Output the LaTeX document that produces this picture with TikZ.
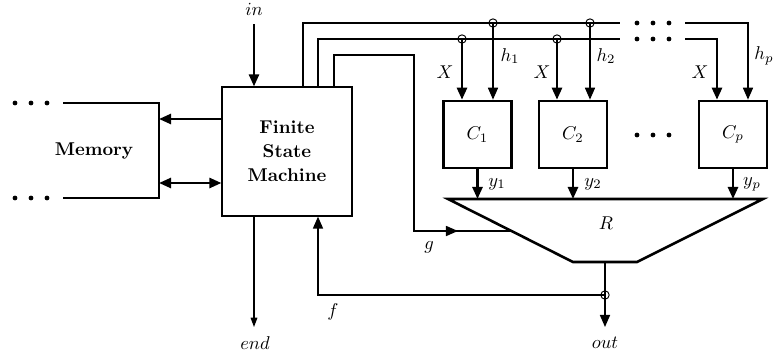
\documentclass[tikz,border=0pt]{standalone}
\usetikzlibrary{arrows.meta,calc}
\begin{document}
\begin{tikzpicture}[x=0.54pt,y=-0.54pt,
  thinln/.style={line width=0.6pt},
  medln/.style={line width=0.9pt},
  thickln/.style={line width=1.4pt},
  arr/.style={-{Triangle[length=6.5pt,width=5.4pt]}},
  arrsmall/.style={-{Triangle[length=5pt,width=3.6pt]}},
  dotn/.style={circle,fill,inner sep=0pt,minimum size=2.6pt},
  tap/.style={circle,draw,line width=0.5pt,inner sep=0pt,minimum size=4.5pt},
  block/.style={draw,thickln,minimum width=36.7pt,minimum height=36.2pt,inner sep=0pt},
  lbl/.style={inner sep=0pt}
]
\useasboundingbox (0,0) rectangle (773,356);

% Finite state machine
\node[draw,thinln,minimum width=70.2pt,minimum height=69.7pt,align=center,font=\bfseries,inner sep=0pt]
  (fsm) at (287,151.5) {Finite\\[1pt]State\\[1pt]Machine};

% Memory
\node[font=\bfseries] (mem) at (94,151) {Memory};
\coordinate (mtl) at (63,103);
\coordinate (mtr) at (159,103);
\coordinate (mbr) at (159,198);
\coordinate (mbl) at (63,198);
\draw[thickln] (mtl) -- (mtr) -- (mbr) -- (mbl);
\foreach \x [count=\i] in {15,31,47} {
  \node[dotn] (mdt\i) at (\x,103) {};
  \node[dotn] (mdb\i) at (\x,198) {};
}
\coordinate (m1) at (159,119);
\coordinate (m2) at (159,183);
\draw[thickln,arr] (fsm.west |- m1) -- (m1);
\draw[thickln,{Triangle[length=6.5pt,width=5.4pt]}-{Triangle[length=6.5pt,width=5.4pt]}] (m2) -- (fsm.west |- m2);

% in
\node[lbl] (in) at (254,9) {$in$};
\coordinate (inS) at (254,24);
\draw[thickln,arr] (inS) -- (inS |- fsm.north);

% end
\node[lbl] (end) at (255,343) {$end$};
\coordinate (endT) at (254,327);
\draw[thinln,arrsmall] (endT |- fsm.south) -- (endT);

% C blocks
\node[block] (C1) at (477.5,134.5) {$C_1$};
\node[block] (C2) at (573,134.5) {$C_2$};
\node[block] (Cp) at (733,134.5) {$C_p$};
\foreach \x [count=\i] in {637,653,669} {
  \node[dotn] (cd\i) at (\x,135) {};
  \node[dotn] (hd\i) at (\x,23) {};
  \node[dotn] (xd\i) at (\x,39) {};
}

% h bus (top)
\coordinate (h0) at (303,23);
\coordinate (hE) at (620,23);
\coordinate (hS) at (685,23);
\coordinate (hp) at (748,23);
\draw[medln] (h0 |- fsm.north) -- (h0) -- (hE);
\draw[medln,arr] (hS) -- (hp) -- (hp |- Cp.north);
\node[tap] (t1) at (493,23) {};
\node[tap] (t2) at (590,23) {};
\draw[medln,arr] (t1.center) -- (t1 |- C1.north);
\draw[medln,arr] (t2.center) -- (t2 |- C2.north);

% X bus
\coordinate (x0) at (318,39);
\coordinate (xE) at (620,39);
\coordinate (xS) at (685,39);
\coordinate (xp) at (717,39);
\draw[thickln] (x0 |- fsm.north) -- (x0) -- (xE);
\draw[thickln,arr] (xS) -- (xp) -- (xp |- Cp.north);
\node[tap] (s1) at (462,39) {};
\node[tap] (s2) at (557,39) {};
\draw[thickln,arr] (s1.center) -- (s1 |- C1.north);
\draw[thickln,arr] (s2.center) -- (s2 |- C2.north);

% labels on bus
\node[lbl] (lx1) at (445,72) {$X$};
\node[lbl] (lx2) at (542,72) {$X$};
\node[lbl] (lx3) at (700,72) {$X$};
\node[lbl] (lh1) at (510,56) {$h_1$};
\node[lbl] (lh2) at (606,56) {$h_2$};
\node[lbl] (lhp) at (764,56) {$h_p$};

% R trapezoid
\coordinate (tA) at (448,199);
\coordinate (tB) at (763,199);
\coordinate (tC) at (637,262);
\coordinate (tD) at (573,262);
\draw[thickln] (tA) -- (tB) -- (tC) -- (tD) -- cycle;
\node[lbl] (R) at (606,223) {$R$};

% y arrows
\draw[thickln,arr] (C1.south) -- (C1.south |- tA);
\draw[thickln,arr] (C2.south) -- (C2.south |- tA);
\draw[thickln,arr] (Cp.south) -- (Cp.south |- tA);
\node[lbl] (ly1) at (497,184) {$y_1$};
\node[lbl] (ly2) at (593,184) {$y_2$};
\node[lbl] (lyp) at (752,184) {$y_p$};

% g line
\coordinate (g0) at (334,55);
\coordinate (g1) at (414,55);
\coordinate (g2) at (414,231);
\coordinate (gm) at (458,231);
\draw[medln] (g0 |- fsm.north) -- (g0) -- (g1) -- (g2) -- (intersection of tA--tD and g2--gm);
\draw[medln,arr] (g2) -- (gm);
\node[lbl] (lg) at (429,247) {$g$};

% out and f
\coordinate (oT) at (605,262);
\node[tap] (ft) at (605,295) {};
\coordinate (oE) at (605,327);
\node[lbl] (out) at (605,343) {$out$};
\draw[medln,arr] (oT) -- (oE);
\coordinate (fc) at (318,295);
\draw[medln,arr] (ft.center) -- (fc) -- (fc |- fsm.south);
\node[lbl] (lf) at (333,312) {$f$};
\end{tikzpicture}
\end{document}
